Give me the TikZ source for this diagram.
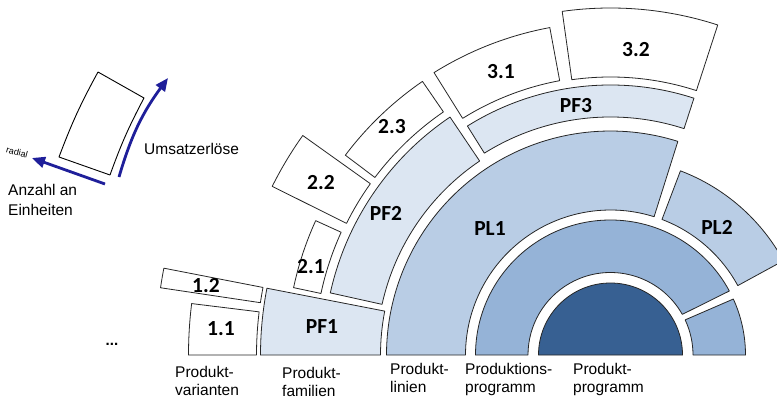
\documentclass[tikz,border=0pt]{standalone}
\usepackage{fontspec}
\setmainfont{Liberation Sans}
\newfontfamily\tagfont{Carlito}
\usetikzlibrary{arrows.meta}

\definecolor{cdark}{HTML}{376092}
\definecolor{cmid}{HTML}{95B3D7}
\definecolor{cline}{HTML}{B9CDE5}
\definecolor{cfam}{HTML}{DCE6F2}
\definecolor{carrow}{HTML}{1F1F9A}

% annular sector: options, inner radius, outer radius,
% start/end angle on the inner arc, start/end angle on the outer arc
\newcommand{\ringsector}[7]{%
  \path[#1] (#4:#2pt) arc[start angle=#4, end angle=#5, radius=#2pt]
    -- (#7:#3pt) arc[start angle=#7, end angle=#6, radius=#3pt] -- cycle;}

\begin{document}
\begin{tikzpicture}[x=1pt, y=1pt,
  seg/.style={draw=black!85, line width=0.8pt, line join=round},
  boxseg/.style={seg, fill=white},
  famseg/.style={seg, fill=cfam},
  linseg/.style={seg, fill=cline},
  progseg/.style={seg, fill=cmid},
  coreseg/.style={seg, fill=cdark},
  tag/.style={font=\tagfont\bfseries\fontsize{21.5}{21.5}\selectfont, inner sep=0pt},
  caption/.style={font=\fontsize{15.5}{18}\selectfont, align=left, anchor=north west, inner sep=0pt},
  flow/.style={draw=carrow, line width=2.8pt, -{Triangle[length=13pt, width=11pt]}},
  iconbox/.style={draw=black, line width=0.9pt, line join=round}
]
\useasboundingbox (0,0) rectangle (777,400);
\clip (0,0) rectangle (777,400);

% concentric rings around the product programme
\begin{scope}[shift={(610.5,45)}]
  \path[coreseg] (0:72pt) arc[start angle=0, end angle=180, radius=72pt] -- cycle;
  \ringsector{progseg}{82.5}{135}{29.5}{180}{28.3}{180}
  \ringsector{progseg}{82.5}{135}{0}{25.2}{0}{24.5}
  \ringsector{linseg}{145}{224}{72.5}{180}{72.5}{180}
  \ringsector{linseg}{145}{197}{28.6}{69.2}{28.6}{69.2}
  \ringsector{famseg}{230}{350}{169}{180}{169}{180}
  \ringsector{famseg}{234}{287}{124}{167.5}{124}{167.5}
  \ringsector{famseg}{238}{270}{72}{122}{72}{122}
  \ringsector{boxseg}{354}{422}{173}{180}{173}{180}
  \ringsector{boxseg}{354}{455}{169}{171.5}{169}{171.5}
  \ringsector{boxseg}{296}{324}{155.5}{168}{155.5}{168}
  \ringsector{boxseg}{295}{378}{144.5}{153.5}{144.5}{153.5}
  \ringsector{boxseg}{295}{332}{124.5}{143}{124.5}{143}
  \ringsector{boxseg}{279}{333}{100.5}{122}{100.5}{122}
  \ringsector{boxseg}{278}{347}{72}{98}{72}{98}
\end{scope}

% segment labels
\node[tag] (t11) at (221,71) {1.1};
\node[tag] (t12) at (206,114) {1.2};
\node[tag] (pf1) at (322,73) {PF1};
\node[tag] (t21) at (311,133) {2.1};
\node[tag] (t22) at (321,217) {2.2};
\node[tag] (pf2) at (386,187) {PF2};
\node[tag] (t23) at (392,273) {2.3};
\node[tag] (t31) at (501,328) {3.1};
\node[tag] (t32) at (636,350) {3.2};
\node[tag] (pf3) at (576,294) {PF3};
\node[tag] (pl1) at (490,171) {PL1};
\node[tag] (pl2) at (717,173) {PL2};
\node[font=\bfseries\fontsize{15}{15}\selectfont, anchor=base, inner sep=0pt] (more) at (112,55) {...};

% level captions
\node[caption] (capvar) at (175,34) {Produkt-\\varianten};
\node[caption] (capfam) at (282,33) {Produkt-\\familien};
\node[caption] (caplin) at (390,37) {Produkt-\\linien};
\node[caption] (capprod) at (465,37) {Produktions-\\programm};
\node[caption] (capprog) at (573,37) {Produkt-\\programm};

% legend: one segment with its two axes
\coordinate (i1) at (98,328);
\coordinate (i2) at (144,302);
\coordinate (i3) at (110,225);
\coordinate (i4) at (59,243);
\draw[iconbox] (i1) -- (i2) to[bend right=4] (i3) -- (i4) to[bend left=4] (i1);

\coordinate (u0) at (119,223);
\coordinate (u1) at (168,322);
\draw[flow] (u0) to[bend left=10] (u1);
\coordinate (r0) at (105,216);
\coordinate (r1) at (32,242);
\draw[flow] (r0) -- (r1);

\node[caption] (umsatz) at (144,257) {Umsatzerlöse};
\node[font=\fontsize{15.5}{20}\selectfont, align=left, anchor=north west, inner sep=0pt] (anzahl) at (8,216) {Anzahl an\\Einheiten};
\node[font=\fontsize{9}{9}\selectfont, rotate=-15, inner sep=0pt] (radial) at (17,248) {radial};
\end{tikzpicture}
\end{document}
